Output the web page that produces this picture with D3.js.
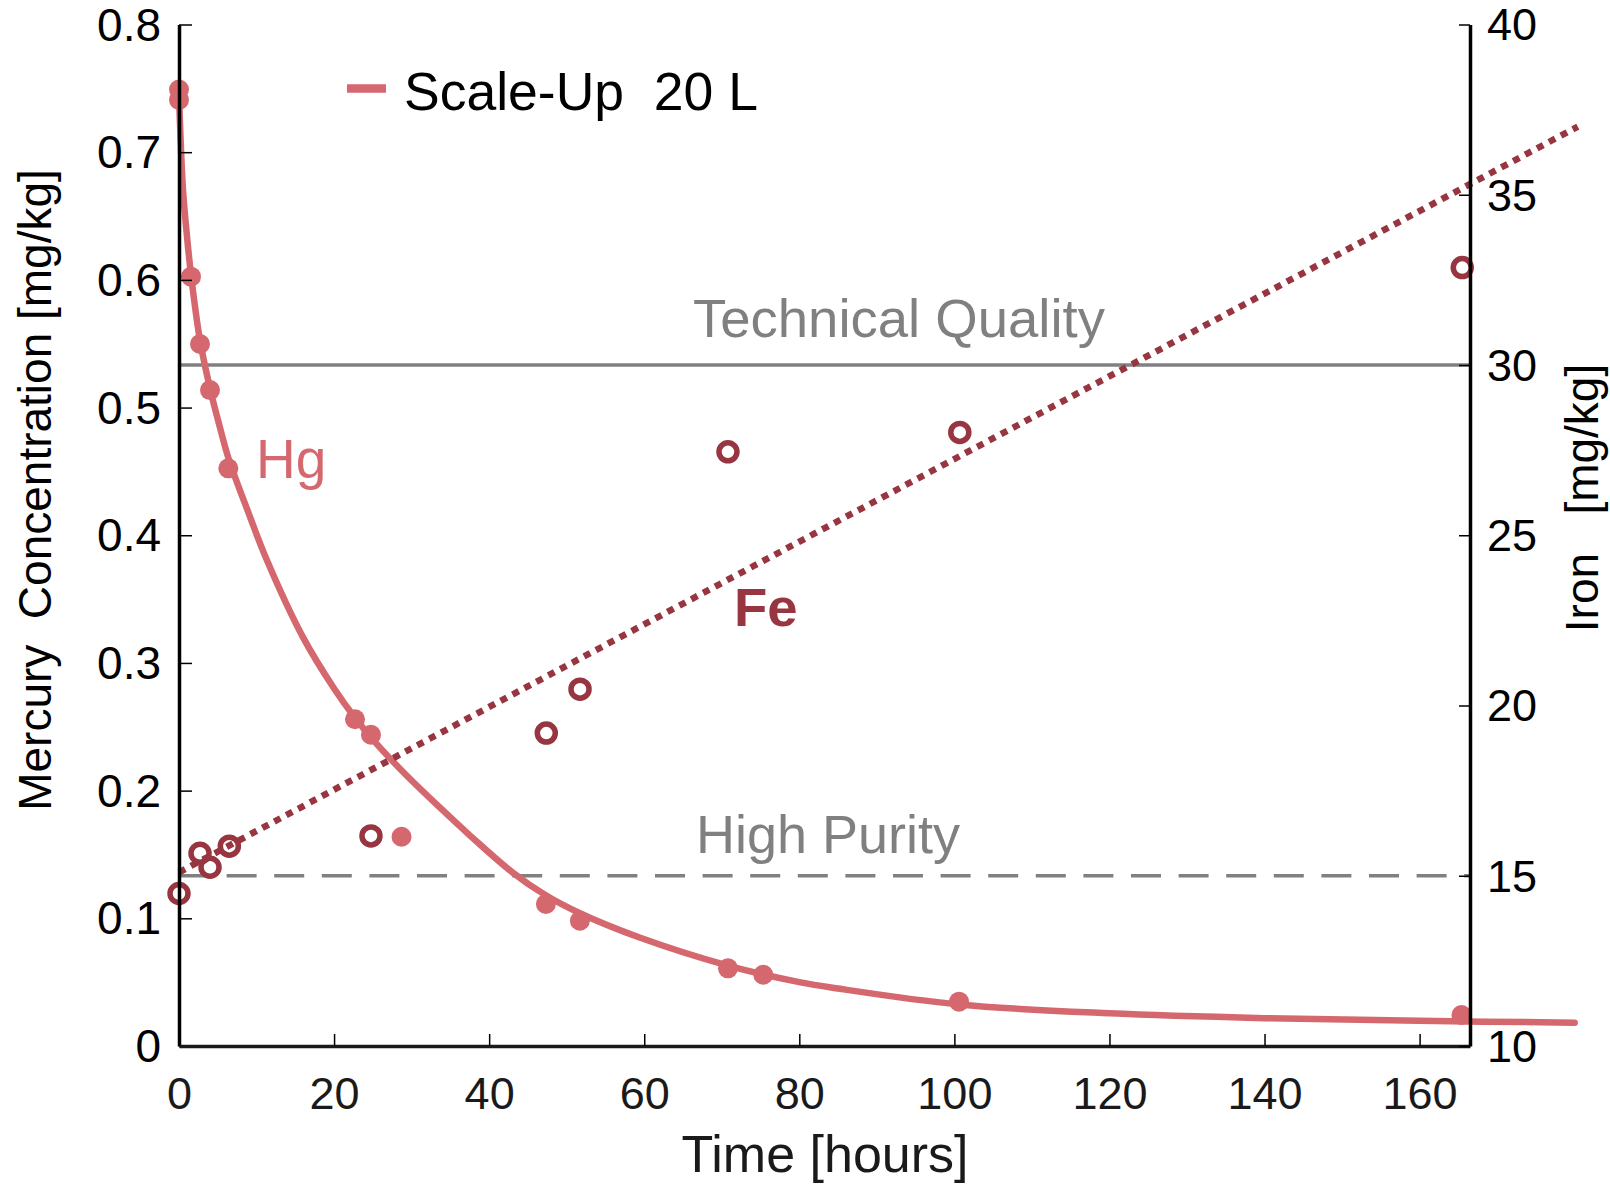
<!DOCTYPE html>
<html>
<head>
<meta charset="utf-8">
<script src="https://cdn.jsdelivr.net/npm/d3@7"></script>
<style>
  html, body { margin: 0; padding: 0; background: #fff; }
  svg text { font-family: "Liberation Sans", Arial, Helvetica, sans-serif; white-space: pre; }
</style>
</head>
<body>
<svg id="chart" width="1610" height="1184"></svg>
<script>
// ---- data ----
const hgTime = [0, 0, 1.55, 2.71, 4.0, 6.36, 22.7, 24.76, 28.7, 47.32, 51.7, 70.8, 75.35, 100.6, 165.4];
const hgConc = [0.749, 0.741, 0.6025, 0.5498, 0.5137, 0.4524, 0.2559, 0.2438, 0.1639, 0.1112, 0.0981, 0.0608, 0.0558, 0.0347, 0.0243];

const feTime = [0, 2.71, 4.0, 6.49, 24.76, 47.37, 51.72, 70.8, 100.7, 165.5];
const feConc = [14.48, 15.66, 15.25, 15.87, 16.17, 19.19, 20.48, 27.45, 28.02, 32.86];

// fitted Hg decay curve, sampled along the drawn line
const hgFitTime = [0, 0.5, 1.0, 1.55, 2.7, 4.0, 5.3, 6.4, 9, 11.3, 16, 20, 22.7, 25, 29, 33.6, 37.5, 43, 47.3, 51.7, 59.4, 70.8, 80, 85, 100.6, 120, 140, 160, 180];
const hgFitConc = [0.745, 0.672, 0.636, 0.604, 0.553, 0.515, 0.484, 0.460, 0.417, 0.381, 0.320, 0.280, 0.257, 0.240, 0.214, 0.187, 0.165, 0.136, 0.118, 0.104, 0.085, 0.063, 0.050, 0.045, 0.0325, 0.0256, 0.0218, 0.0197, 0.0183];

// linear Fe trend (end points)
const feFitTime = [0, 180.4];
const feFitConc = [15.1, 37.0];

// reference levels (iron axis)
const refLevels = [30, 15];
const refNames = ["Technical Quality", "High Purity"];

const xTicks = [0, 20, 40, 60, 80, 100, 120, 140, 160];
const yLeftTicks = [0, 0.1, 0.2, 0.3, 0.4, 0.5, 0.6, 0.7, 0.8];
const yRightTicks = [10, 15, 20, 25, 30, 35, 40];

const legendLabel = "Scale-Up  20 L";
const xLabel = "Time [hours]";
const yLeftLabel = "Mercury  Concentration [mg/kg]";
const yRightLabel = "Iron   [mg/kg]";

// ---- styling ----
const HG = "#d5676e";
const FE = "#973540";
const GREY = "#808080";

const L = 179, R = 1470, T = 24.5, B = 1046;
const svg = d3.select("#chart");

const x = d3.scaleLinear().domain([0, 166.5]).range([L, R]);
const yL = d3.scaleLinear().domain([0, 0.8]).range([B, T]);
const yR = d3.scaleLinear().domain([10, 40]).range([B, T]);

// reference lines
svg.append("line")
  .attr("x1", L).attr("x2", R)
  .attr("y1", yR(refLevels[0])).attr("y2", yR(refLevels[0]))
  .attr("stroke", GREY).attr("stroke-width", 3.5);
svg.append("line")
  .attr("x1", L).attr("x2", R)
  .attr("y1", yR(refLevels[1])).attr("y2", yR(refLevels[1]))
  .attr("stroke", GREY).attr("stroke-width", 3.5)
  .attr("stroke-dasharray", "30,17.6");

svg.append("text").attr("x", 693).attr("y", yR(refLevels[0]) - 28)
  .attr("font-size", 54.5).attr("fill", GREY).text(refNames[0]);
svg.append("text").attr("x", 696).attr("y", yR(refLevels[1]) - 23)
  .attr("font-size", 54).attr("fill", GREY).text(refNames[1]);

// Hg fit curve
const hgFit = hgFitTime.map((t, i) => [t, hgFitConc[i]]);
svg.append("path")
  .datum(hgFit)
  .attr("fill", "none").attr("stroke", HG).attr("stroke-width", 6.5)
  .attr("stroke-linecap", "round")
  .attr("d", d3.line().x(d => x(d[0])).y(d => yL(d[1])).curve(d3.curveCatmullRom.alpha(0.5)));

// Fe trend line
const feFit = feFitTime.map((t, i) => [t, feFitConc[i]]);
svg.append("path")
  .datum(feFit)
  .attr("fill", "none").attr("stroke", FE).attr("stroke-width", 6.5)
  .attr("stroke-dasharray", "7,6.5")
  .attr("d", d3.line().x(d => x(d[0])).y(d => yR(d[1])));

// Fe markers (open)
svg.append("g").selectAll("circle")
  .data(feTime.map((t, i) => [t, feConc[i]]))
  .join("circle")
  .attr("cx", d => x(d[0])).attr("cy", d => yR(d[1])).attr("r", 9)
  .attr("fill", "none").attr("stroke", FE).attr("stroke-width", 5.5);

// Hg markers (filled)
svg.append("g").selectAll("circle")
  .data(hgTime.map((t, i) => [t, hgConc[i]]))
  .join("circle")
  .attr("cx", d => x(d[0])).attr("cy", d => yL(d[1])).attr("r", 10)
  .attr("fill", HG);

// in-plot labels
svg.append("text").attr("x", 256).attr("y", 478).attr("font-size", 55)
  .attr("fill", HG).text("Hg");
svg.append("text").attr("x", 734).attr("y", 626).attr("font-size", 54.5)
  .attr("font-weight", "bold").attr("fill", FE).text("Fe");

// axes
const fmtL = d => d === 0 ? "0" : d3.format(".1f")(d);
const gL = svg.append("g").attr("transform", `translate(${L},0)`)
  .call(d3.axisLeft(yL).tickValues(yLeftTicks).tickFormat(fmtL)
    .tickSizeInner(-13).tickSizeOuter(0).tickPadding(18));
const gB = svg.append("g").attr("transform", `translate(0,${B})`)
  .call(d3.axisBottom(x).tickValues(xTicks).tickFormat(d3.format("d"))
    .tickSizeInner(-12).tickSizeOuter(0).tickPadding(31));
const gR = svg.append("g").attr("transform", `translate(${R},0)`)
  .call(d3.axisRight(yR).tickValues(yRightTicks).tickFormat(d3.format("d"))
    .tickSizeInner(-11).tickSizeOuter(0).tickPadding(17));

[gL, gB, gR].forEach(g => {
  g.selectAll("text").attr("font-size", 45).attr("fill", "#000")
    .attr("font-family", '"Liberation Sans", Arial, Helvetica, sans-serif');
  g.selectAll(".tick line").attr("stroke", "#000").attr("stroke-width", 1.5);
  g.select(".domain").attr("stroke", "#000").attr("stroke-width", 3.5);
});
gL.selectAll("text").attr("font-size", 46).attr("dy", "0.34em");
gR.selectAll("text").attr("dy", "0.34em");
gB.selectAll("text").attr("fill", "#1a1a1a");
gB.select(".domain").attr("stroke", "#1a1a1a");

// axis titles
svg.append("text").attr("x", 825).attr("y", 1172).attr("text-anchor", "middle")
  .attr("font-size", 52).attr("fill", "#1a1a1a").text(xLabel);
svg.append("text").attr("transform", "translate(51,490) rotate(-90)")
  .attr("text-anchor", "middle").attr("font-size", 46).attr("fill", "#000")
  .text(yLeftLabel);
svg.append("text").attr("transform", "translate(1598,498) rotate(-90)")
  .attr("text-anchor", "middle").attr("font-size", 46).attr("fill", "#000")
  .text(yRightLabel);

// legend
svg.append("line").attr("x1", 347).attr("x2", 386).attr("y1", 88.5).attr("y2", 88.5)
  .attr("stroke", HG).attr("stroke-width", 8.5);
svg.append("text").attr("x", 404).attr("y", 110).attr("font-size", 53.5)
  .attr("fill", "#000").text(legendLabel);
</script>
</body>
</html>
